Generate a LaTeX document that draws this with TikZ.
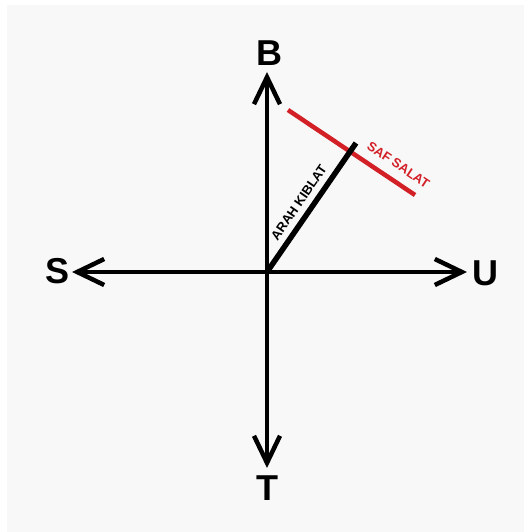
\documentclass[tikz,border=0pt]{standalone}
\usepackage{fontspec}
\setmainfont{Liberation Sans}
\usetikzlibrary{arrows.meta}
\definecolor{cBg}{HTML}{F8F8F8}
\definecolor{cRed}{HTML}{D32027}

\begin{document}
\begin{tikzpicture}[
  x=1pt, y=1pt,
  axis/.style={line width=4.5pt, -{Straight Barb[length=27pt,width=26pt]}},
  dirlabel/.style={font=\fontsize{36}{36}\selectfont\bfseries, inner sep=0pt},
  linelabel/.style={font=\fontsize{13}{13}\selectfont\bfseries,
                    inner sep=0pt, sloped},
]

% ---- Canvas ----
\useasboundingbox (-267,-260) rectangle (257,272);
\fill[cBg] (-260,-260) rectangle (257,267);

% ---- Axes ----
\coordinate (O) at (0,0);
\coordinate (north) at (0,200);
\coordinate (south) at (0,-196);
\coordinate (west) at (-195,0);
\coordinate (east) at (200,0);

\node[dirlabel] (B) at (2.5,219) {B};
\node[dirlabel] (T) at (0,-216) {T};
\node[dirlabel] (S) at (-209,1) {S};
\node[dirlabel] (U) at (218,-1) {U};

\draw[axis] (O) -- (north);
\draw[axis] (O) -- (south);
\draw[axis] (O) -- (west);
\draw[axis] (O) -- (east);

% ---- Kiblat and saf ----
\coordinate (kiblat) at (89,129);
\coordinate (safA) at (21,162);
\coordinate (safB) at (148,77);

\draw[cRed, line width=4.5pt] (safA) -- (safB)
  node[linelabel, pos=0.8, above=9pt, text=cRed] (saf) {SAF SALAT};
\draw[line width=5.5pt] (O) -- (kiblat)
  node[linelabel, pos=0.48, above=6pt] (arah) {ARAH KIBLAT};

\end{tikzpicture}
\end{document}
